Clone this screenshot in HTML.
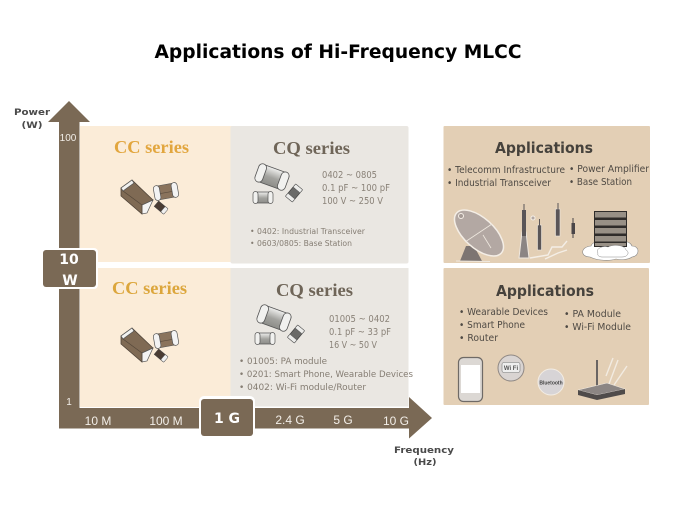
<!DOCTYPE html>
<html><head><meta charset="utf-8"><style>
html,body{margin:0;padding:0;background:#fff;width:675px;height:506px;overflow:hidden}
svg{display:block}
.t{font-family:"Liberation Sans",sans-serif}
.d{font-family:"DejaVu Sans",sans-serif}
.s{font-family:"Liberation Serif",serif;font-weight:bold}
</style></head><body>
<svg width="675" height="506" viewBox="0 0 675 506" xmlns="http://www.w3.org/2000/svg">
<defs>
<g id="cc">
  <polygon points="2,10 13,2 34,22 23,36 2,18" fill="#7f6a54" stroke="#4e4338" stroke-width=".8"/>
  <polygon points="2,10 13,2 15,5 4,13" fill="#f2f2f0" stroke="#555" stroke-width=".7"/>
  <polygon points="23,27 34,22 28,35 23,36" fill="#f4f4f4" stroke="#555" stroke-width=".7"/>
  <polyline points="4,13 23,27 23,36" fill="none" stroke="#55483a" stroke-width=".7"/>
  <g transform="translate(47,13.500) rotate(-10)">
    <rect x="-11" y="-7" width="22" height="14" rx="3" fill="#8a735c" stroke="#555" stroke-width=".6"/>
    <rect x="-12" y="-7.500" width="6" height="15" rx="3" fill="#f3f3f3" stroke="#555" stroke-width=".7"/>
    <rect x="6" y="-7.500" width="6" height="15" rx="3" fill="#f3f3f3" stroke="#555" stroke-width=".7"/>
    <line x1="-6" y1="1" x2="6" y2="1" stroke="#5c4d3e" stroke-width=".6"/>
  </g>
  <g transform="translate(42,29.500) rotate(40)">
    <rect x="-6" y="-3.500" width="12" height="7" fill="#4a3c33" stroke="#444" stroke-width=".5"/>
    <rect x="2.500" y="-3.500" width="4" height="7" rx="1" fill="#f0f0f0" stroke="#555" stroke-width=".5"/>
  </g>
</g>
<linearGradient id="g" x1="0" y1="0" x2="0" y2="1">
  <stop offset="0" stop-color="#f0f0ee"/><stop offset=".55" stop-color="#a2a29e"/><stop offset="1" stop-color="#8d8d89"/>
</linearGradient>
<g id="cq">
  <g transform="translate(19,14) rotate(20)">
    <rect x="-15" y="-9" width="30" height="18" rx="6" fill="url(#g)" stroke="#555" stroke-width=".8"/>
    <rect x="-16" y="-9.500" width="8" height="19" rx="4" fill="#f1f1ef" stroke="#555" stroke-width=".8"/>
    <rect x="8" y="-9.500" width="8" height="19" rx="4" fill="#f1f1ef" stroke="#555" stroke-width=".8"/>
  </g>
  <g transform="translate(10,34.500)">
    <rect x="-9" y="-5.500" width="18" height="11" rx="3" fill="url(#g)" stroke="#555" stroke-width=".7"/>
    <rect x="-10" y="-6" width="5" height="12" rx="2.500" fill="#f1f1ef" stroke="#555" stroke-width=".7"/>
    <rect x="5" y="-6" width="5" height="12" rx="2.500" fill="#f1f1ef" stroke="#555" stroke-width=".7"/>
  </g>
  <g transform="translate(41,30) rotate(-50)">
    <rect x="-8" y="-4.500" width="16" height="9" rx="1" fill="#6a6a68" stroke="#444" stroke-width=".7"/>
    <rect x="-8" y="-4.500" width="4" height="9" fill="#ececea" stroke="#555" stroke-width=".5"/>
    <rect x="4" y="-4.500" width="4" height="9" fill="#ececea" stroke="#555" stroke-width=".5"/>
  </g>
</g>
</defs>

<text x="338" y="58" text-anchor="middle" class="d" font-weight="bold" font-size="18.500" fill="#000" textLength="367" lengthAdjust="spacingAndGlyphs">Applications of Hi-Frequency MLCC</text>

<!-- arrows -->
<polygon points="69,101 90,122 79.500,122 79.500,408 409,408 409,397 432,418 409,438.500 409,428.500 59,428.500 59,122 48,122" fill="#7a6955"/>

<!-- panels -->
<rect x="80" y="126" width="152" height="136" fill="#fbecd8"/>
<rect x="80" y="268" width="152" height="139" fill="#fbecd8"/>
<rect x="230.500" y="126" width="178" height="137.500" rx="2" fill="#eae7e2"/>
<rect x="230.500" y="268" width="178" height="138.500" fill="#eae7e2"/>
<rect x="443.500" y="126" width="206.500" height="137" rx="1" fill="#e3cfb5"/>
<rect x="443.500" y="268" width="205.500" height="137" rx="1" fill="#e3cfb5"/>

<!-- axis labels -->
<g class="d" font-weight="bold" font-size="9" fill="#4a4a4a" text-anchor="middle">
<text x="32" y="115" textLength="36" lengthAdjust="spacingAndGlyphs">Power</text>
<text x="32" y="128" textLength="21" lengthAdjust="spacingAndGlyphs">(W)</text>
<text x="424" y="453" textLength="60" lengthAdjust="spacingAndGlyphs">Frequency</text>
<text x="425" y="465" textLength="23" lengthAdjust="spacingAndGlyphs">(Hz)</text>
</g>
<g class="t" font-size="11" fill="#f2eee8" text-anchor="middle">
<text x="68" y="141" font-size="10">100</text>
<text x="69" y="405" font-size="10">1</text>
<text x="98" y="425" font-size="12">10 M</text>
<text x="166" y="425" font-size="12">100 M</text>
<text x="290" y="424" font-size="12">2.4 G</text>
<text x="343" y="424" font-size="12">5 G</text>
<text x="396" y="425" font-size="12">10 G</text>
</g>

<!-- badges -->
<rect x="41" y="248" width="57" height="41" rx="4" fill="#fff"/>
<rect x="43" y="250" width="53" height="37" rx="3" fill="#7a6955"/>
<g class="d" font-weight="bold" font-size="14" fill="#fff" text-anchor="middle">
<text x="69" y="264">10</text>
<text x="70" y="285">W</text>
</g>
<rect x="199" y="396" width="56" height="42" rx="5" fill="#fff"/>
<rect x="201" y="399" width="52" height="37" rx="3" fill="#7a6955"/>
<text x="227" y="423" class="d" font-weight="bold" font-size="14" fill="#fff" text-anchor="middle">1 G</text>

<!-- series headings -->
<text x="151.500" y="153" class="s" font-size="17.500" fill="#e2a63e" text-anchor="middle" textLength="75" lengthAdjust="spacingAndGlyphs">CC series</text>
<text x="149.500" y="294" class="s" font-size="17.500" fill="#dca63c" text-anchor="middle" textLength="75" lengthAdjust="spacingAndGlyphs">CC series</text>
<text x="311.500" y="154" class="s" font-size="17.500" fill="#6f6558" text-anchor="middle" textLength="77" lengthAdjust="spacingAndGlyphs">CQ series</text>
<text x="314.500" y="296" class="s" font-size="17.500" fill="#6f6558" text-anchor="middle" textLength="77" lengthAdjust="spacingAndGlyphs">CQ series</text>

<use href="#cc" x="119" y="178"/>
<use href="#cc" x="119" y="326"/>
<use href="#cq" x="253" y="163"/>
<use href="#cq" x="255" y="304"/>

<!-- CQ text -->
<g class="d" font-size="10" fill="#8a8278">
<text x="322" y="178" textLength="55" lengthAdjust="spacingAndGlyphs">0402 ~ 0805</text>
<text x="322" y="191" textLength="68" lengthAdjust="spacingAndGlyphs">0.1 pF ~ 100 pF</text>
<text x="322" y="204" textLength="61" lengthAdjust="spacingAndGlyphs">100 V ~ 250 V</text>
<text x="329" y="322" textLength="61" lengthAdjust="spacingAndGlyphs">01005 ~ 0402</text>
<text x="329" y="335" textLength="62" lengthAdjust="spacingAndGlyphs">0.1 pF ~ 33 pF</text>
<text x="329" y="348" textLength="48" lengthAdjust="spacingAndGlyphs">16 V ~ 50 V</text>
</g>
<g class="d" font-size="8" fill="#857d73">
<text x="250" y="234" textLength="115" lengthAdjust="spacingAndGlyphs">• 0402: Industrial Transceiver</text>
<text x="250" y="246" textLength="102" lengthAdjust="spacingAndGlyphs">• 0603/0805: Base Station</text>
</g>
<g class="d" font-size="9" fill="#857d73">
<text x="239" y="364" textLength="88" lengthAdjust="spacingAndGlyphs">• 01005: PA module</text>
<text x="239" y="377" textLength="174" lengthAdjust="spacingAndGlyphs">• 0201: Smart Phone, Wearable Devices</text>
<text x="239" y="390" textLength="127" lengthAdjust="spacingAndGlyphs">• 0402: Wi-Fi module/Router</text>
</g>

<!-- Applications -->
<text x="544" y="153" class="d" font-weight="bold" font-size="15.500" fill="#46423c" text-anchor="middle" textLength="98" lengthAdjust="spacingAndGlyphs">Applications</text>
<text x="545" y="296" class="d" font-weight="bold" font-size="15.500" fill="#46423c" text-anchor="middle" textLength="98" lengthAdjust="spacingAndGlyphs">Applications</text>
<g class="d" font-size="9.500" fill="#4f4a44">
<text x="447" y="173" textLength="118" lengthAdjust="spacingAndGlyphs">• Telecomm Infrastructure</text>
<text x="447" y="186" textLength="104" lengthAdjust="spacingAndGlyphs">• Industrial Transceiver</text>
<text x="569" y="172" textLength="80" lengthAdjust="spacingAndGlyphs">• Power Amplifier</text>
<text x="569" y="185" textLength="63" lengthAdjust="spacingAndGlyphs">• Base Station</text>
<text x="459" y="315" textLength="89" lengthAdjust="spacingAndGlyphs">• Wearable Devices</text>
<text x="459" y="328" textLength="66" lengthAdjust="spacingAndGlyphs">• Smart Phone</text>
<text x="459" y="341" textLength="39" lengthAdjust="spacingAndGlyphs">• Router</text>
<text x="564" y="317" textLength="57" lengthAdjust="spacingAndGlyphs">• PA Module</text>
<text x="564" y="330" textLength="67" lengthAdjust="spacingAndGlyphs">• Wi-Fi Module</text>
</g>

<!-- Dish -->
<g>
  <polygon points="466,246 474,246 482,261 460,261" fill="#7d7572"/>
  <ellipse cx="479" cy="233" rx="30" ry="15" transform="rotate(42 479 233)" fill="#b3a8a3" stroke="#f4eee6" stroke-width="1.500"/>
  <line x1="465" y1="242" x2="492" y2="224" stroke="#efe8df" stroke-width=".8"/>
  <line x1="483" y1="235" x2="491" y2="248" stroke="#efe8df" stroke-width=".8"/>
  <circle cx="461" cy="216" r="2.500" fill="#a59a95" stroke="#f4eee6"/>
  <line x1="456" y1="261" x2="490" y2="261.500" stroke="#efe8df"/>
</g>
<!-- Towers -->
<g fill="none">
  <path d="M530,258 L548,255 L552,247 L562,247 L567,241 M545,259 L558,253 L567,250" stroke="#f4eee6" stroke-width="1.400"/>
  <polygon points="522,232 526,232 529,258 519,258" stroke="#efe8df" stroke-width="1" fill="#8b8584"/>
  <rect x="522" y="210" width="4" height="26" fill="#5a5557"/>
  <line x1="524" y1="204" x2="524" y2="212" stroke="#5a5557" stroke-width="1"/>
  <rect x="537.500" y="225" width="4" height="25" fill="#5a5557" stroke="#efe8df" stroke-width=".6"/>
  <line x1="539.500" y1="219" x2="539.500" y2="226" stroke="#5a5557"/>
  <rect x="555.500" y="209" width="4.500" height="27" fill="#5a5557" stroke="#efe8df" stroke-width=".6"/>
  <line x1="558" y1="203" x2="558" y2="210" stroke="#5a5557"/>
  <rect x="571.500" y="223" width="3.500" height="11" fill="#4a4648"/>
  <line x1="573" y1="218" x2="573" y2="238" stroke="#4a4648"/>
  <circle cx="533" cy="218" r="2" fill="#b3a8a3" stroke="#f4eee6"/>
</g>
<!-- Server cloud -->
<g>
  <path d="M590,257 C580,257 580,247 591,246 C593,240 606,240 610,243 C618,240 630,240 632,246 C640,246 640,256 632,257 C628,260 620,260 616,259 C610,261 598,261 590,257Z" fill="#fff" stroke="#888" stroke-width=".6"/>
  <rect x="594" y="211" width="33" height="36" fill="#2f2c2a"/>
  <g fill="#989086">
    <rect x="595" y="212" width="31" height="5.500"/>
    <rect x="595" y="220" width="31" height="5.500"/>
    <rect x="595" y="228" width="31" height="5.500"/>
    <rect x="595" y="236" width="31" height="5.500"/>
    <rect x="595" y="243" width="31" height="3"/>
  </g>
  <path d="M598,253 C595,249 603,245 608,247 C613,244 625,245 626,250 C630,252 628,257 622,257 L602,257 C599,257 597,255 598,253Z" fill="#fff" stroke="#888" stroke-width=".5"/>
</g>

<!-- Phone -->
<rect x="458.500" y="357.500" width="24" height="44" rx="5" fill="#dcd8d4" stroke="#6f6a66" stroke-width="1.200"/>
<rect x="461" y="365" width="19" height="28" fill="#fff"/>
<!-- wifi circle -->
<circle cx="511" cy="368" r="13" fill="#d9d4d2" stroke="#8f8884" stroke-width="1"/>
<rect x="502" y="362.500" width="18" height="10" rx="2" fill="#eee" stroke="#777" stroke-width=".6"/>
<text x="511" y="370" class="t" font-size="6" font-weight="bold" fill="#555" text-anchor="middle">Wi Fi</text>
<!-- bluetooth circle -->
<circle cx="551" cy="382" r="13" fill="#d7d4d6" stroke="#f3ede4" stroke-width="1"/>
<text x="551" y="384.500" class="t" font-size="5" font-weight="bold" fill="#444" text-anchor="middle">Bluetooth</text>
<!-- router -->
<g>
  <line x1="597" y1="360" x2="597" y2="386" stroke="#6a6563" stroke-width="2"/>
  <path d="M609,384 L618,360 M614,385 L627,366 M606,376 L613,358" stroke="#f2ebe1" stroke-width="1.400" fill="none"/>
  <path d="M578,390 L607,383 L625,389 L597,395Z" fill="#8c8684" stroke="#f3ede4" stroke-width=".6"/>
  <path d="M578,390 L597,395 L625,389 L625,394 L597,400 L578,395Z" fill="#4f4b4a"/>
</g>
</svg>
</body></html>
